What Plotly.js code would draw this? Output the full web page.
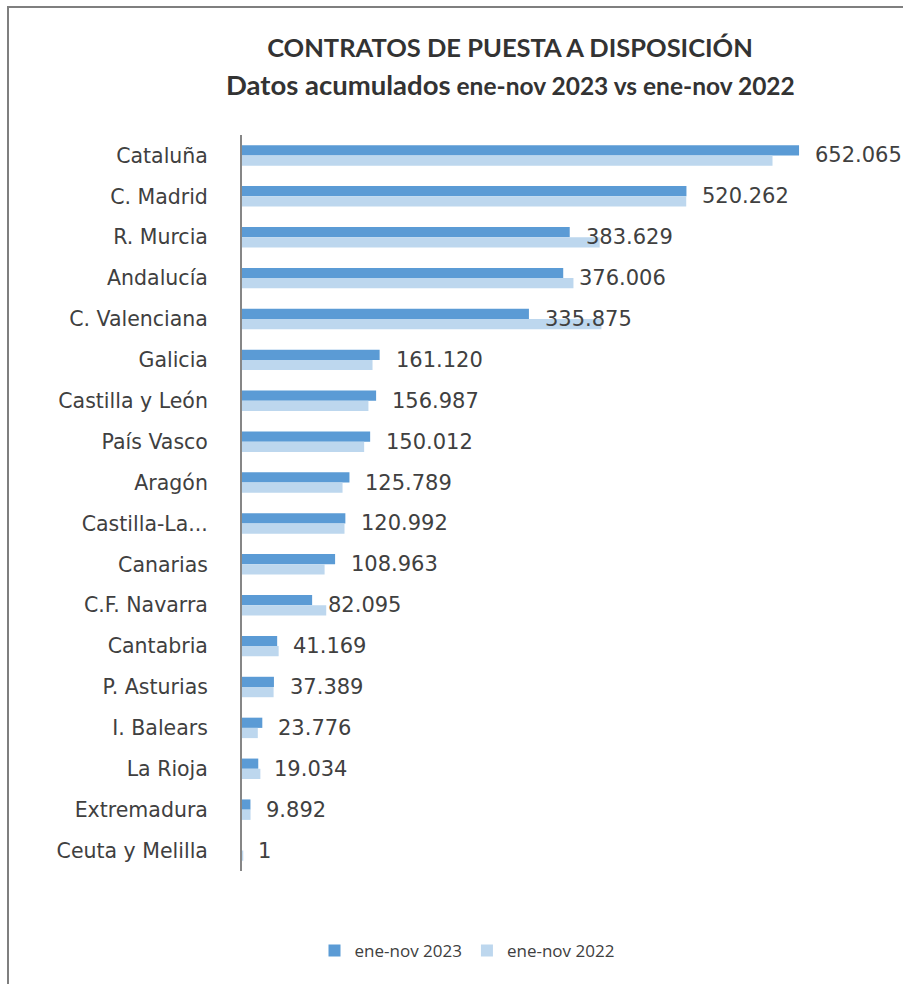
<!DOCTYPE html>
<html>
<head>
<meta charset="utf-8">
<script src="https://cdn.plot.ly/plotly-3.0.1.min.js"></script>
<style>
  html, body { margin:0; padding:0; background:#fff; }
  #wrap { position:relative; width:903px; height:984px; overflow:hidden; }
  #chart { width:903px; height:984px; }
  #frame { position:absolute; left:7px; top:6px; width:1000px; height:1000px;
           border-left:2px solid #7f7f7f; border-top:2px solid #7f7f7f; pointer-events:none; }
</style>
</head>
<body>
<div id="wrap"><div id="chart"></div><div id="frame"></div></div>
<script>
const regions = ["Cataluña","C. Madrid","R. Murcia","Andalucía","C. Valenciana","Galicia",
  "Castilla y León","País Vasco","Aragón","Castilla-La...","Canarias","C.F. Navarra",
  "Cantabria","P. Asturias","I. Balears","La Rioja","Extremadura","Ceuta y Melilla"];
const v2023 = [652065,520262,383629,376006,335875,161120,156987,150012,125789,120992,108963,82095,41169,37389,23776,19034,9892,1];
const v2022 = [621000,520000,418700,388000,420700,152800,148000,143000,117700,120000,96700,98600,42900,37000,18500,21500,10000,1500];
const labels2023 = ["652.065","520.262","383.629","376.006","335.875","161.120","156.987","150.012","125.789","120.992","108.963","82.095","41.169","37.389","23.776","19.034","9.892","1"];
const seriesNames = ["ene-nov 2023","ene-nov 2022"];

const traces = [
  {type:'bar', orientation:'h', name:seriesNames[0], y:regions, x:v2023,
   marker:{color:'#5B9BD5'}, hoverinfo:'x+y'},
  {type:'bar', orientation:'h', name:seriesNames[1], y:regions, x:v2022,
   marker:{color:'#BDD7EE'}, hoverinfo:'x+y'}
];

const annotations = regions.map((r,i)=>({
  x:v2023[i], y:r, xref:'x', yref:'y', text:labels2023[i], showarrow:false,
  xanchor:'left', yanchor:'middle', xshift:14,
  font:{family:'DejaVu Sans', size:21, color:'#404040'}
}));
annotations.push({
  xref:'paper', yref:'paper', x:0.449, y:1.068, xanchor:'center', yanchor:'middle', showarrow:false,
  text:"<b>Datos acumulados</b><span style='font-size:24.5px'><b> ene-nov 2023 vs ene-nov 2022</b></span>",
  font:{family:'Lato', size:27.5, color:'#333333'}
});

const layout = {
  width:903, height:984,
  paper_bgcolor:'#fff', plot_bgcolor:'#fff',
  margin:{l:242, r:62.5, t:134.5, b:112.5},
  barmode:'group', bargap:0.5, bargroupgap:0,
  title:{text:'<b>CONTRATOS DE PUESTA A DISPOSICIÓN</b>', x:510/903, xanchor:'center',
         y:1-48/984, yanchor:'middle', font:{family:'Lato', size:25.5, color:'#333333'}},
  xaxis:{range:[0,700000], visible:false, fixedrange:true},
  yaxis:{type:'category', autorange:'reversed', showline:true, linecolor:'#868686', linewidth:2,
         showgrid:false, ticks:'', ticklabelstandoff:28, zeroline:false,
         tickfont:{family:'DejaVu Sans', size:20.5, color:'#404040'}},
  showlegend:true,
  legend:{orientation:'h', xref:'container', yref:'container', x:467/903, xanchor:'center',
          y:1-951/984, yanchor:'middle', font:{family:'Open Sans', size:17, color:'#404040'},
          traceorder:'normal'},
  annotations:annotations
};
Plotly.newPlot('chart', traces, layout, {displayModeBar:false, staticPlot:true});
</script>
</body>
</html>
